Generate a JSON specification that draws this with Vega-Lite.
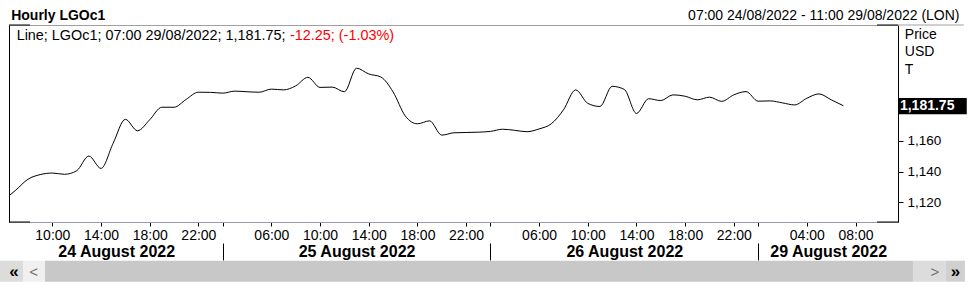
{
  "$schema": "https://vega.github.io/schema/vega-lite/v6.json",
  "width": 889,
  "height": 197,
  "autosize": "none",
  "padding": {"left": 9, "top": 25, "right": 71, "bottom": 63},
  "background": "white",
  "config": {
    "font": "Liberation Sans",
    "view": {"stroke": "#a0a0a0", "strokeWidth": 1},
    "axis": {"labelFont": "Liberation Sans", "titleFont": "Liberation Sans", "grid": false}
  },
  "data": {
    "values": [
      {"bar": -1, "price": 1121.5}, {"bar": 0, "price": 1128}, {"bar": 1, "price": 1135}, {"bar": 2, "price": 1138},
      {"bar": 3, "price": 1139}, {"bar": 4, "price": 1138.2}, {"bar": 5, "price": 1140.5}, {"bar": 6, "price": 1150},
      {"bar": 7, "price": 1142}, {"bar": 8, "price": 1158.3}, {"bar": 9, "price": 1173.7}, {"bar": 10, "price": 1166.3},
      {"bar": 11, "price": 1173.4}, {"bar": 12, "price": 1181.5}, {"bar": 13, "price": 1181.5}, {"bar": 14, "price": 1186.6},
      {"bar": 15, "price": 1191.2}, {"bar": 16, "price": 1191.1}, {"bar": 17, "price": 1190.6}, {"bar": 18, "price": 1191.9},
      {"bar": 19, "price": 1191.5}, {"bar": 20, "price": 1191.2}, {"bar": 21, "price": 1193.2}, {"bar": 22, "price": 1192.7},
      {"bar": 23, "price": 1195.3}, {"bar": 24, "price": 1200.8}, {"bar": 25, "price": 1194.3}, {"bar": 26, "price": 1194.5},
      {"bar": 27, "price": 1191.5}, {"bar": 28, "price": 1206.7}, {"bar": 29, "price": 1203.0}, {"bar": 30, "price": 1201},
      {"bar": 31, "price": 1191.4}, {"bar": 32, "price": 1175.9}, {"bar": 33, "price": 1170.8}, {"bar": 34, "price": 1172.7},
      {"bar": 35, "price": 1163.5}, {"bar": 36, "price": 1165}, {"bar": 37, "price": 1165.2}, {"bar": 38, "price": 1165.4},
      {"bar": 39, "price": 1165.9}, {"bar": 40, "price": 1167.3}, {"bar": 41, "price": 1166.6}, {"bar": 42, "price": 1165.7},
      {"bar": 43, "price": 1167.5}, {"bar": 44, "price": 1170.8}, {"bar": 45, "price": 1179.8}, {"bar": 46, "price": 1192.7},
      {"bar": 47, "price": 1184}, {"bar": 48, "price": 1182}, {"bar": 49, "price": 1195}, {"bar": 50, "price": 1193},
      {"bar": 51, "price": 1177.5}, {"bar": 52, "price": 1187}, {"bar": 53, "price": 1185.8}, {"bar": 54, "price": 1189.5},
      {"bar": 55, "price": 1188.6}, {"bar": 56, "price": 1186.3}, {"bar": 57, "price": 1188}, {"bar": 58, "price": 1185.3},
      {"bar": 59, "price": 1189.5}, {"bar": 60, "price": 1191.6}, {"bar": 61, "price": 1185.4}, {"bar": 62, "price": 1185.6},
      {"bar": 63, "price": 1184.3}, {"bar": 64, "price": 1183}, {"bar": 65, "price": 1187.3}, {"bar": 66, "price": 1190.1},
      {"bar": 67, "price": 1186.3}, {"bar": 68, "price": 1182.5}
    ]
  },
  "resolve": {"axis": {"x": "independent", "y": "independent"}},
  "layer": [
    {
      "mark": {"type": "line", "color": "black", "strokeWidth": 1, "interpolate": "monotone", "clip": true},
      "encoding": {
        "x": {
          "field": "bar", "type": "quantitative",
          "scale": {"domain": [-0.56, 72.49], "nice": false, "zero": false},
          "axis": {
            "orient": "bottom", "values": [3, 7, 11, 15, 17, 21, 25, 29, 33, 37, 39, 43, 47, 51, 55, 59, 61, 65, 69],
            "labelExpr": "indexof([17,39,61], datum.value) >= 0 ? '' : pad(toString(datum.value < 17 ? datum.value + 7 : datum.value < 39 ? datum.value - 15 : datum.value < 61 ? datum.value - 37 : datum.value - 61), 2, '0', 'left') + ':00'",
            "tickSize": 4, "tickColor": "black", "domainColor": "#9a9aa8", "labelFontSize": 14, "labelColor": "black",
            "labelPadding": 2, "labelFlush": false, "labelOverlap": false, "title": null
          }
        },
        "y": {
          "field": "price", "type": "quantitative",
          "scale": {"domain": [1107.4, 1234.6], "nice": false, "zero": false},
          "axis": {
            "orient": "right", "values": [1120, 1140, 1160], "format": ",.0f", "tickSize": 5, "tickColor": "black",
            "domainColor": "black", "labelFontSize": 13.5, "labelColor": "black", "labelPadding": 4,
            "title": ["Price", "USD", "T"], "titleAngle": 0, "titleAlign": "left", "titleBaseline": "alphabetic",
            "titleX": 6.3, "titleY": 13.3, "titleFontSize": 14, "titleFontWeight": "normal", "titleLineHeight": 17.5, "titleColor": "black"
          }
        }
      }
    },
    {
      "mark": {"type": "point", "opacity": 0},
      "encoding": {
        "x": {"field": "bar", "type": "quantitative",
          "axis": {"orient": "bottom", "offset": 21, "values": [17, 39, 61], "tickSize": 17, "tickColor": "black", "labels": false, "domain": false, "title": null}}
      }
    },
    {
      "mark": {"type": "point", "opacity": 0},
      "encoding": {
        "x": {"field": "bar", "type": "quantitative",
          "axis": {"orient": "bottom", "values": [8.25, 28, 50, 66.75],
            "labelExpr": "datum.value < 17 ? '24 August 2022' : datum.value < 39 ? '25 August 2022' : datum.value < 61 ? '26 August 2022' : '29 August 2022'",
            "ticks": false, "domain": false, "labelFontSize": 16, "labelFontWeight": "bold", "labelColor": "black",
            "labelPadding": 21.5, "labelFlush": false, "labelOverlap": false, "title": null}}
      }
    },
    {
      "mark": {"type": "point", "opacity": 0},
      "encoding": {
        "y": {"field": "price", "type": "quantitative",
          "axis": {"orient": "left", "domainColor": "black", "ticks": false, "labels": false,
            "title": "Hourly LGOc1", "titleAngle": 0, "titleAlign": "left", "titleBaseline": "alphabetic",
            "titleX": 1.7, "titleY": -5.5, "titleFontSize": 14, "titleFontWeight": "bold", "titleColor": "black"}}
      }
    },
    {
      "mark": {"type": "point", "opacity": 0},
      "encoding": {
        "x": {"field": "bar", "type": "quantitative",
          "axis": {"orient": "top", "domainColor": "#a0a0a0", "ticks": false, "labels": false,
            "title": "07:00 24/08/2022 - 11:00 29/08/2022 (LON)", "titleAlign": "right", "titleBaseline": "alphabetic",
            "titleX": 950, "titleY": -5.5, "titleFontSize": 14, "titleFontWeight": "normal", "titleColor": "black"}}
      }
    },
    {
      "data": {"values": [{}]},
      "mark": {"type": "text", "align": "left", "baseline": "alphabetic", "fontSize": 14.4, "color": "black"},
      "encoding": {
        "x": {"datum": 0.07, "type": "quantitative", "axis": null},
        "y": {"datum": 1224.6, "type": "quantitative", "axis": null},
        "text": {"value": "Line; LGOc1; 07:00 29/08/2022; 1,181.75;"}
      }
    },
    {
      "data": {"values": [{}]},
      "mark": {"type": "text", "align": "left", "baseline": "alphabetic", "fontSize": 14.4, "color": "#ff0000"},
      "encoding": {
        "x": {"datum": 22.53, "type": "quantitative", "axis": null},
        "y": {"datum": 1224.6, "type": "quantitative", "axis": null},
        "text": {"value": "-12.25; (-1.03%)"}
      }
    },
    {
      "data": {"values": [{}]},
      "mark": {"type": "rect", "color": "black"},
      "encoding": {
        "x": {"datum": 72.49, "type": "quantitative", "axis": null},
        "x2": {"datum": 78.14},
        "y": {"datum": 1187.4, "type": "quantitative", "axis": null},
        "y2": {"datum": 1177.0}
      }
    },
    {
      "data": {"values": [{}]},
      "mark": {"type": "text", "align": "left", "baseline": "middle", "fontSize": 14, "fontWeight": "bold", "color": "white"},
      "encoding": {
        "x": {"datum": 72.65, "type": "quantitative", "axis": null},
        "y": {"datum": 1182.2, "type": "quantitative", "axis": null},
        "text": {"value": "1,181.75"}
      }
    },
    {
      "data": {"values": [{}]},
      "mark": {"type": "rect", "color": "#c8c8c8"},
      "encoding": {
        "x": {"datum": 2.4, "type": "quantitative", "axis": null}, "x2": {"datum": 73.72},
        "y": {"datum": 1082.4, "type": "quantitative", "axis": null}, "y2": {"datum": 1068.85}
      }
    },
    {
      "data": {"values": [{}]},
      "mark": {"type": "rect", "color": "#dcdcdc"},
      "encoding": {
        "x": {"datum": -1.3, "type": "quantitative", "axis": null}, "x2": {"datum": 0.59},
        "y": {"datum": 1082.4, "type": "quantitative", "axis": null}, "y2": {"datum": 1068.85}
      }
    },
    {
      "data": {"values": [{}]},
      "mark": {"type": "rect", "color": "#f0f0f0"},
      "encoding": {
        "x": {"datum": 0.59, "type": "quantitative", "axis": null}, "x2": {"datum": 2.4},
        "y": {"datum": 1082.4, "type": "quantitative", "axis": null}, "y2": {"datum": 1068.85}
      }
    },
    {
      "data": {"values": [{}]},
      "mark": {"type": "rect", "color": "#dcdcdc"},
      "encoding": {
        "x": {"datum": 73.72, "type": "quantitative", "axis": null}, "x2": {"datum": 76.41},
        "y": {"datum": 1082.4, "type": "quantitative", "axis": null}, "y2": {"datum": 1068.85}
      }
    },
    {
      "data": {"values": [{}]},
      "mark": {"type": "rect", "color": "#d0d0d0"},
      "encoding": {
        "x": {"datum": 76.41, "type": "quantitative", "axis": null}, "x2": {"datum": 77.99},
        "y": {"datum": 1082.4, "type": "quantitative", "axis": null}, "y2": {"datum": 1068.85}
      }
    },
    {
      "data": {"values": [{"g": "«", "k": -0.16}, {"g": "»", "k": 77.21}]},
      "mark": {"type": "text", "align": "center", "baseline": "middle", "fontSize": 17, "fontWeight": "bold", "color": "black"},
      "encoding": {
        "x": {"field": "k", "type": "quantitative", "axis": null},
        "y": {"datum": 1075.3, "type": "quantitative", "axis": null},
        "text": {"field": "g"}
      }
    },
    {
      "data": {"values": [{"g": "<", "k": 1.47}, {"g": ">", "k": 75.53}]},
      "mark": {"type": "text", "align": "center", "baseline": "middle", "fontSize": 15, "color": "#707070"},
      "encoding": {
        "x": {"field": "k", "type": "quantitative", "axis": null},
        "y": {"datum": 1075.3, "type": "quantitative", "axis": null},
        "text": {"field": "g"}
      }
    },
    {
      "data": {"values": [{}]},
      "mark": {"type": "rule", "color": "#a0a0a0", "strokeWidth": 1},
      "encoding": {
        "x": {"datum": 72.49, "type": "quantitative", "axis": null}, "x2": {"datum": 77.9},
        "y": {"datum": 1234.6, "type": "quantitative", "axis": null}
      }
    },
    {
      "data": {"values": [{}]},
      "mark": {"type": "rule", "color": "black", "strokeWidth": 1},
      "encoding": {
        "x": {"datum": -0.56, "type": "quantitative", "axis": null}, "x2": {"datum": 1.17},
        "y": {"datum": 1234.6, "type": "quantitative", "axis": null}
      }
    },
    {
      "data": {"values": [{}]},
      "mark": {"type": "rule", "color": "black", "strokeWidth": 1},
      "encoding": {
        "x": {"datum": 70.77, "type": "quantitative", "axis": null}, "x2": {"datum": 72.49},
        "y": {"datum": 1234.6, "type": "quantitative", "axis": null}
      }
    },
    {
      "data": {"values": [{}]},
      "mark": {"type": "rule", "color": "black", "strokeWidth": 1},
      "encoding": {
        "x": {"datum": -0.56, "type": "quantitative", "axis": null}, "x2": {"datum": 1.17},
        "y": {"datum": 1107.4, "type": "quantitative", "axis": null}
      }
    },
    {
      "data": {"values": [{}]},
      "mark": {"type": "rule", "color": "black", "strokeWidth": 1},
      "encoding": {
        "x": {"datum": 70.77, "type": "quantitative", "axis": null}, "x2": {"datum": 72.49},
        "y": {"datum": 1107.4, "type": "quantitative", "axis": null}
      }
    }
  ]
}
